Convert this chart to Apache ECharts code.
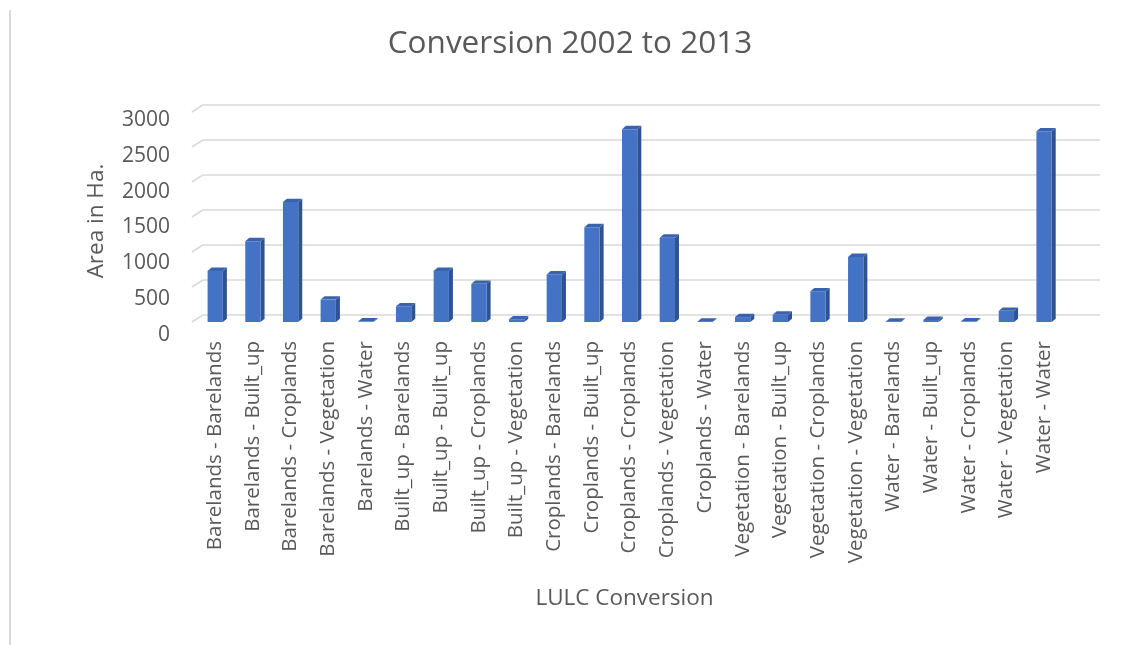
<!DOCTYPE html>
<html>
<head>
<meta charset="utf-8">
<script src="https://cdn.jsdelivr.net/npm/echarts@6/dist/echarts.min.js"></script>
<style>
html,body{margin:0;padding:0;background:#fff;}
#chart{width:1133px;height:645px;}
</style>
</head>
<body>
<div id="chart"></div>
<script>
const titleText = 'Conversion 2002 to 2013';
const xAxisTitle = 'LULC Conversion';
const yAxisTitle = 'Area in Ha.';
const categories = [
  'Barelands - Barelands','Barelands - Built_up','Barelands - Croplands','Barelands - Vegetation','Barelands - Water',
  'Built_up - Barelands','Built_up - Built_up','Built_up - Croplands','Built_up - Vegetation',
  'Croplands - Barelands','Croplands - Built_up','Croplands - Croplands','Croplands - Vegetation','Croplands - Water',
  'Vegetation - Barelands','Vegetation - Built_up','Vegetation - Croplands','Vegetation - Vegetation',
  'Water - Barelands','Water - Built_up','Water - Croplands','Water - Vegetation','Water - Water'
];
const areaValues = [730, 1155, 1715, 320, 10, 225, 730, 545, 40, 680, 1355, 2755, 1205, 5, 70, 105, 440, 930, 5, 30, 10, 160, 2725];
const yTicks = [0, 500, 1000, 1500, 2000, 2500, 3000];

const textColor = '#595959';
const font = '"Open Sans", sans-serif';
const chart = echarts.init(document.getElementById('chart'));

const DX = 11, DY = -7; // back-wall offset
const BW = 15.3, BDX = 4, BDY = -3.3;

chart.setOption({
  animation: false,
  backgroundColor: '#fff',
  grid: [
    { left: 196.4, right: 70.1, top: 112, bottom: 323 },
    { left: 203, right: 33, top: 105, bottom: 330 },
    { left: 178, right: 70, top: 120, bottom: 310 }
  ],
  xAxis: [
    { type: 'category', gridIndex: 0, data: categories,
      axisLine: { show: false }, axisTick: { show: false },
      axisLabel: { interval: 0, rotate: 90, margin: 19, color: textColor, fontSize: 20.5, fontFamily: font } },
    { type: 'category', gridIndex: 1, data: categories, show: false },
    { type: 'category', gridIndex: 2, data: categories, show: false }
  ],
  yAxis: [
    { type: 'value', gridIndex: 0, min: 0, max: 3000, interval: 500, show: false },
    { type: 'value', gridIndex: 1, min: 0, max: 3000, interval: 500,
      axisLine: { show: false }, axisTick: { show: false }, axisLabel: { show: false },
      splitLine: { show: true, lineStyle: { color: '#d9d9d9', width: 1.5 } } },
    { type: 'value', gridIndex: 2, min: 0, max: 3000, interval: 500,
      axisLine: { show: false }, axisTick: { show: false }, splitLine: { show: false },
      axisLabel: { margin: 8, color: textColor, fontSize: 21, fontFamily: font, formatter: v => String(v) } }
  ],
  series: [
    {
      type: 'custom', xAxisIndex: 0, yAxisIndex: 0, silent: true,
      data: yTicks.map(t => [0, t]),
      renderItem(params, api) {
        const cs = params.coordSys;
        const p = api.coord([0, api.value(1)]);
        const x0 = cs.x - 4.5;
        return { type: 'line', shape: { x1: x0, y1: p[1], x2: x0 + DX, y2: p[1] + DY },
          style: { stroke: '#d9d9d9', lineWidth: 1.5 } };
      }
    },
    {
      type: 'custom', xAxisIndex: 0, yAxisIndex: 0,
      data: areaValues.map((v, i) => [i, v]),
      renderItem(params, api) {
        const base = api.coord([api.value(0), 0]);
        const top = api.coord([api.value(0), api.value(1)]);
        const x0 = base[0] - BW / 2, x1 = base[0] + BW / 2;
        const yb = base[1], yt = top[1];
        return { type: 'group', children: [
          { type: 'polygon', shape: { points: [[x1, yb], [x1 + BDX, yb + BDY], [x1 + BDX, yt + BDY], [x1, yt]] },
            style: { fill: '#2F5290' } },
          { type: 'polygon', shape: { points: [[x0, yt], [x1, yt], [x1 + BDX, yt + BDY], [x0 + BDX, yt + BDY]] },
            style: { fill: '#3A63AD' } },
          { type: 'rect', shape: { x: x0, y: yt, width: BW, height: yb - yt },
            style: { fill: '#4472C4' } }
        ]};
      }
    }
  ],
  graphic: [
    { type: 'line', shape: { x1: 10, y1: 10, x2: 10, y2: 645 }, style: { stroke: '#d9d9d9', lineWidth: 2 } },
    { type: 'text', x: 570, y: 44, style: { text: titleText, fill: textColor, font: '400 31.5px "Open Sans", sans-serif', align: 'center', verticalAlign: 'middle' } },
    { type: 'text', x: 624.5, y: 599, style: { text: xAxisTitle, fill: textColor, font: '400 22.5px "Open Sans", sans-serif', align: 'center', verticalAlign: 'middle' } },
    { type: 'text', x: 97, y: 221, rotation: Math.PI / 2, style: { text: yAxisTitle, fill: textColor, font: '400 22.5px "Open Sans", sans-serif', align: 'center', verticalAlign: 'middle' } }
  ]
});
</script>
</body>
</html>
